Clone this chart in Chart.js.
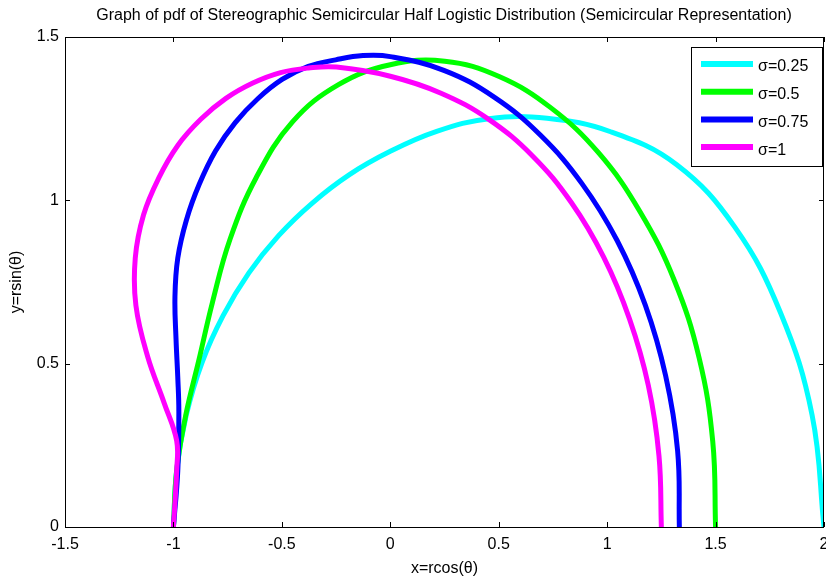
<!DOCTYPE html>
<html>
<head>
<meta charset="utf-8">
<script src="https://cdn.jsdelivr.net/npm/chart.js@4/dist/chart.umd.min.js"></script>
<style>
  html, body { margin: 0; padding: 0; background: #fff; }
  canvas { display: block; }
</style>
</head>
<body>
<canvas id="polarChart" width="826" height="580"></canvas>
<script>
// Values, traced from theta = 0 (right) to theta = pi (left)
const sigmaLabels = ['σ=0.25', 'σ=0.5', 'σ=0.75', 'σ=1'];
const lineColors  = ['#00ffff', '#00ff00', '#0000ff', '#ff00ff'];

const s025X = [2.0, 1.945, 1.800, 1.589, 1.321, 1.016, 0.723, 0.455, 0.214, 0.0, -0.190, -0.361, -0.515, -0.652, -0.771, -0.869, -0.941, -0.985, -1.0];
const s025Y = [0, 0.343, 0.655, 0.918, 1.109, 1.210, 1.251, 1.250, 1.211, 1.150, 1.078, 0.991, 0.892, 0.778, 0.647, 0.502, 0.342, 0.174, 0];

const s05X = [1.5, 1.487, 1.424, 1.309, 1.151, 0.961, 0.741, 0.502, 0.251, 0.0, -0.239, -0.451, -0.618, -0.739, -0.820, -0.883, -0.943, -0.985, -1.0];
const s05Y = [0, 0.262, 0.518, 0.756, 0.966, 1.145, 1.283, 1.379, 1.426, 1.415, 1.354, 1.240, 1.070, 0.881, 0.688, 0.510, 0.343, 0.174, 0];

const s075X = [1.333, 1.325, 1.270, 1.176, 1.046, 0.883, 0.693, 0.479, 0.247, 0.0, -0.126, -0.252, -0.378, -0.499, -0.611, -0.715, -0.806, -0.881, -0.940, -0.980, -0.993, -0.988, -0.980, -0.975, -0.980, -1.0];
const s075Y = [0, 0.233, 0.462, 0.679, 0.877, 1.052, 1.199, 1.316, 1.398, 1.440, 1.443, 1.430, 1.410, 1.370, 1.311, 1.238, 1.151, 1.049, 0.940, 0.823, 0.705, 0.575, 0.459, 0.354, 0.172, 0];

const s1X = [1.25, 1.239, 1.190, 1.103, 0.984, 0.834, 0.656, 0.454, 0.234, 0.0, -0.248, -0.377, -0.506, -0.634, -0.758, -0.874, -0.980, -1.068, -1.138, -1.176, -1.173, -1.119, -1.043, -0.985, -0.985, -1.0];
const s1Y = [0, 0.218, 0.433, 0.637, 0.826, 0.994, 1.136, 1.248, 1.328, 1.380, 1.408, 1.405, 1.391, 1.359, 1.312, 1.248, 1.168, 1.068, 0.955, 0.823, 0.678, 0.522, 0.380, 0.264, 0.174, 0];

const xTicks = { min: -1.5, max: 2, step: 0.5 };
const yTicks = { min: 0, max: 1.5, step: 0.5 };

const FONT = '"Liberation Sans", Arial, sans-serif';
const seriesX = [s025X, s05X, s075X, s1X];
const seriesY = [s025Y, s05Y, s075Y, s1Y];

const datasets = sigmaLabels.map((lab, i) => ({
  label: lab,
  data: seriesX[i].map((x, k) => ({ x, y: seriesY[i][k] })),
  showLine: true,
  borderColor: lineColors[i],
  backgroundColor: lineColors[i],
  borderWidth: 5,
  pointRadius: 0,
  tension: 0.4,
  order: sigmaLabels.length - i   // last series drawn on top, like the original
}));

const tickText = v => String(+v.toFixed(2));

// frame, inward ticks, title and boxed legend
const matlabLook = {
  id: 'matlabLook',
  afterDraw(chart) {
    const { ctx, chartArea: a, scales: { x, y } } = chart;
    ctx.save();
    ctx.strokeStyle = '#000';
    ctx.lineWidth = 1;
    ctx.strokeRect(a.left + 0.5, a.top + 0.5, a.right - a.left - 1, a.bottom - a.top);

    ctx.beginPath();
    x.ticks.forEach(t => {
      const px = Math.round(x.getPixelForValue(t.value)) + 0.5;
      ctx.moveTo(px, a.bottom); ctx.lineTo(px, a.bottom - 5);
      ctx.moveTo(px, a.top);    ctx.lineTo(px, a.top + 5);
    });
    y.ticks.forEach(t => {
      const py = Math.round(y.getPixelForValue(t.value)) + 0.5;
      ctx.moveTo(a.left, py);  ctx.lineTo(a.left + 5, py);
      ctx.moveTo(a.right, py); ctx.lineTo(a.right - 5, py);
    });
    ctx.stroke();

    // title
    const title = 'Graph of pdf of Stereographic Semicircular Half Logistic Distribution (Semicircular Representation)';
    ctx.font = '16px ' + FONT;
    ctx.fillStyle = '#000';
    ctx.textAlign = 'center';
    ctx.textBaseline = 'middle';
    const w = ctx.measureText(title).width;
    const sx = Math.min(1, 732 / w);
    ctx.save();
    ctx.translate(444, 16);
    ctx.scale(sx, 1);
    ctx.fillText(title, 0, 0);
    ctx.restore();

    // legend
    const bx = 691, by = 47, bw = 131, bh = 119;
    ctx.fillStyle = '#fff';
    ctx.fillRect(bx, by, bw, bh);
    ctx.strokeRect(bx + 0.5, by + 0.5, bw, bh);
    ctx.font = '16px ' + FONT;
    ctx.textAlign = 'left';
    chart.data.datasets.forEach((ds, i) => {
      const ry = 64 + i * 27.7;
      ctx.strokeStyle = ds.borderColor;
      ctx.lineWidth = 6;
      ctx.beginPath();
      ctx.moveTo(701, ry); ctx.lineTo(753, ry);
      ctx.stroke();
      ctx.fillStyle = '#000';
      ctx.fillText(ds.label, 758, ry + 3);
    });
    ctx.restore();
  }
};

new Chart(document.getElementById('polarChart'), {
  type: 'scatter',
  data: { datasets },
  options: {
    responsive: false,
    animation: false,
    layout: { padding: { top: 37, right: 2, left: 0, bottom: 0 } },
    plugins: { legend: { display: false }, tooltip: { enabled: false }, title: { display: false } },
    scales: {
      x: {
        type: 'linear',
        min: xTicks.min, max: xTicks.max,
        ticks: { stepSize: xTicks.step, color: '#000', font: { family: FONT, size: 16 }, padding: 8, maxRotation: 0, callback: tickText },
        grid: { display: false, drawTicks: false },
        border: { display: false },
        title: { display: true, text: 'x=rcos(θ)', color: '#000', font: { family: FONT, size: 16 }, padding: { top: 0, bottom: 2 } },
        afterFit(s) { s.height = 53; s.paddingLeft = 0; s.paddingRight = 0; }
      },
      y: {
        type: 'linear',
        min: yTicks.min, max: yTicks.max,
        ticks: { stepSize: yTicks.step, color: '#000', font: { family: FONT, size: 16 }, padding: 6, callback: tickText },
        grid: { display: false, drawTicks: false },
        border: { display: false },
        title: { display: true, text: 'y=rsin(θ)', color: '#000', font: { family: FONT, size: 16 }, padding: { top: 7, bottom: 0 } },
        afterFit(s) { s.width = 65; }
      }
    }
  },
  plugins: [matlabLook]
});
</script>
</body>
</html>
